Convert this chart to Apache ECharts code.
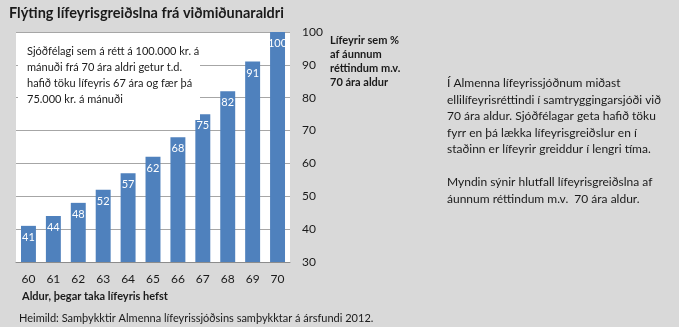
<!DOCTYPE html>
<html><head><meta charset="utf-8">
<script src="https://cdn.jsdelivr.net/npm/echarts@6/dist/echarts.min.js"></script>
<style>html,body{margin:0;padding:0;background:#d9d9d9}#c{width:679px;height:327px}</style>
</head><body><div id="c"></div>
<script>
const categories = ['60','61','62','63','64','65','66','67','68','69','70'];
const values = [41,44,48,52,57,62,68,75,82,91,100];
const yTicks = {min:30, max:100, interval:10};
const titleText = 'Flýting lífeyrisgreiðslna frá viðmiðunaraldri';
const yAxisTitle = 'Lífeyrir sem %\naf áunnum\nréttindum m.v.\n70 ára aldur';
const xAxisTitle = 'Aldur, þegar taka lífeyris hefst';
const boxText = 'Sjóðfélagi sem á rétt á 100.000 kr. á\nmánuði frá 70 ára aldri getur t.d.\nhafið töku lífeyris 67 ára og fær þá\n75.000 kr. á mánuði';
const sideText = 'Í Almenna lífeyrissjóðnum miðast\nellilífeyrisréttindi í samtryggingarsjóði við\n70 ára aldur. Sjóðfélagar geta hafið töku\nfyrr en þá lækka lífeyrisgreiðslur en í\nstaðinn er lífeyrir greiddur í lengri tíma.\n\nMyndin sýnir hlutfall lífeyrisgreiðslna af\náunnum réttindum m.v.  70 ára aldur.';
const sourceText = 'Heimild: Samþykktir Almenna lífeyrissjóðsins samþykktar á ársfundi 2012.';

const F = 'Lato, "Open Sans", sans-serif';
const chart = echarts.init(document.getElementById('c'));
chart.setOption({
  backgroundColor: '#d9d9d9',
  animation: false,
  textStyle: {fontFamily: F},
  title: {text: titleText, left: 4, top: 1, textStyle: {fontSize: 14.5, fontWeight: 'bold', color: '#1a1a1a', fontFamily: F}},
  grid: {left: 16, right: 389, top: 32, bottom: 65, show: true, backgroundColor: '#ffffff', borderWidth: 0},
  xAxis: {
    type: 'category', data: categories,
    axisLine: {lineStyle: {color: '#8c8c8c'}},
    axisTick: {show: false},
    axisLabel: {color: '#1a1a1a', fontSize: 12, margin: 11}
  },
  yAxis: {
    type: 'value', position: 'right', min: yTicks.min, max: yTicks.max, interval: yTicks.interval,
    axisLine: {show: false}, axisTick: {show: false},
    axisLabel: {color: '#1a1a1a', fontSize: 12, margin: 12, align: 'left'},
    splitLine: {lineStyle: {color: '#a6a6a6'}}
  },
  series: [{
    type: 'bar', data: values, barWidth: '60%',
    itemStyle: {color: '#4f81bd'},
    label: {show: true, position: 'insideTop', distance: 6, color: '#ffffff', fontSize: 11}
  }],
  graphic: [
    {type: 'rect', z: 5, shape: {x: 18, y: 36, width: 182, height: 84}, style: {fill: '#ffffff'}},
    {type: 'text', z: 6, left: 27, top: 43, style: {text: boxText, font: '11px ' + F, fill: '#1a1a1a', lineHeight: 16}},
    {type: 'text', left: 330, top: 33, style: {text: yAxisTitle, font: 'bold 11px ' + F, fill: '#1a1a1a', lineHeight: 14}},
    {type: 'text', left: 447, top: 75, style: {text: sideText, font: '12px ' + F, fill: '#1a1a1a', lineHeight: 16.5}},
    {type: 'text', left: 22, top: 291, style: {text: xAxisTitle, font: 'bold 11px ' + F, fill: '#1a1a1a'}},
    {type: 'text', left: 19, top: 313, style: {text: sourceText, font: '11px ' + F, fill: '#1a1a1a'}}
  ]
});
</script></body></html>
